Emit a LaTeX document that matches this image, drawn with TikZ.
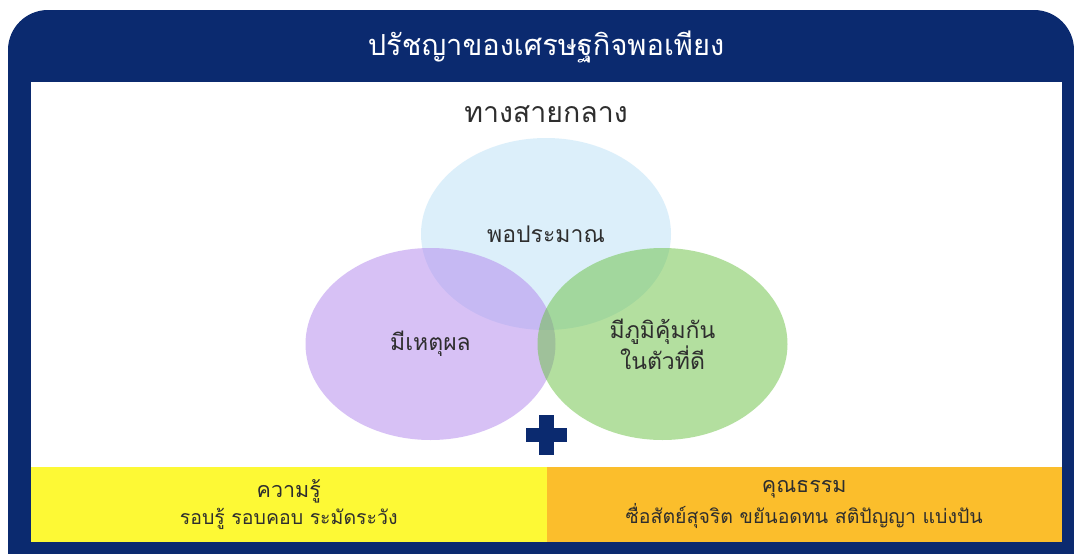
\documentclass[tikz,border=0pt]{standalone}
\usepackage{fontspec}
\newfontfamily\thaifont[Script=Thai]{Loma}
\usepackage{tikz}
\usetikzlibrary{positioning}
\usetikzlibrary{shapes.geometric}
\definecolor{navy}{HTML}{0B2A6F}
\definecolor{ink}{HTML}{2E2E2E}
\definecolor{skyc}{HTML}{BBE1F7}
\definecolor{lilac}{HTML}{B185ED}
\definecolor{leaf}{HTML}{69C141}
\definecolor{lemon}{HTML}{FDF935}
\definecolor{amber}{HTML}{FBBE2C}
\tikzset{%
  ttl/.style = {text=white, font=\thaifont\fontsize{29}{34}\selectfont},
  hd/.style = {text=ink, font=\thaifont\fontsize{28.5}{34}\selectfont},
  ring/.style = {ellipse, minimum width=250pt, minimum height=192pt,
        fill opacity=0.5, text opacity=1, text=ink, align=center,
        font=\thaifont\fontsize{23}{28}\selectfont},
  band/.style = {rectangle, minimum width=515.5pt, minimum height=75pt,
        inner sep=0pt, align=center, text=ink,
        font=\thaifont\fontsize{19.5}{22}\selectfont}
}
\begin{document}
\begin{tikzpicture}[x=1pt,y=-1pt]
  \useasboundingbox (0,0) rectangle (1074,554);
  \fill[navy] (8,554) -- (8,50) arc[start angle=180, end angle=270, radius=40]
        -- (1034,10) arc[start angle=270, end angle=360, radius=40] -- (1074,554) -- cycle;
  \fill[white] (31,82) rectangle (1062,467);

  \node[ttl] (title) at (546,47) {ปรัชญาของเศรษฐกิจพอเพียง};

  \node[ring, fill=skyc] (sky) at (546,234) {พอประมาณ};
  \node[ring, fill=lilac] (reason) at (430.5,344) {มีเหตุผล};
  \node[ring, fill=leaf] (immune) at (662.5,344) {มีภูมิคุ้มกัน\\ในตัวที่ดี};
  \node[hd] (middle) [above=12pt of sky] {ทางสายกลาง};

  \fill[navy] (526,428) rectangle (567,442);
  \fill[navy] (539,415) rectangle (554,455);

  \node[band, fill=lemon] (know) at (288.75,504.5)
        {{\fontsize{21.5}{26}\selectfont ความรู้}\\[5pt]รอบรู้ รอบคอบ ระมัดระวัง};
  \node[band, fill=amber] (virtue) at (804.25,504.5)
        {{\fontsize{21.5}{26}\selectfont คุณธรรม}\\[5pt]ซื่อสัตย์สุจริต ขยันอดทน สติปัญญา แบ่งปัน};
\end{tikzpicture}
\end{document}
